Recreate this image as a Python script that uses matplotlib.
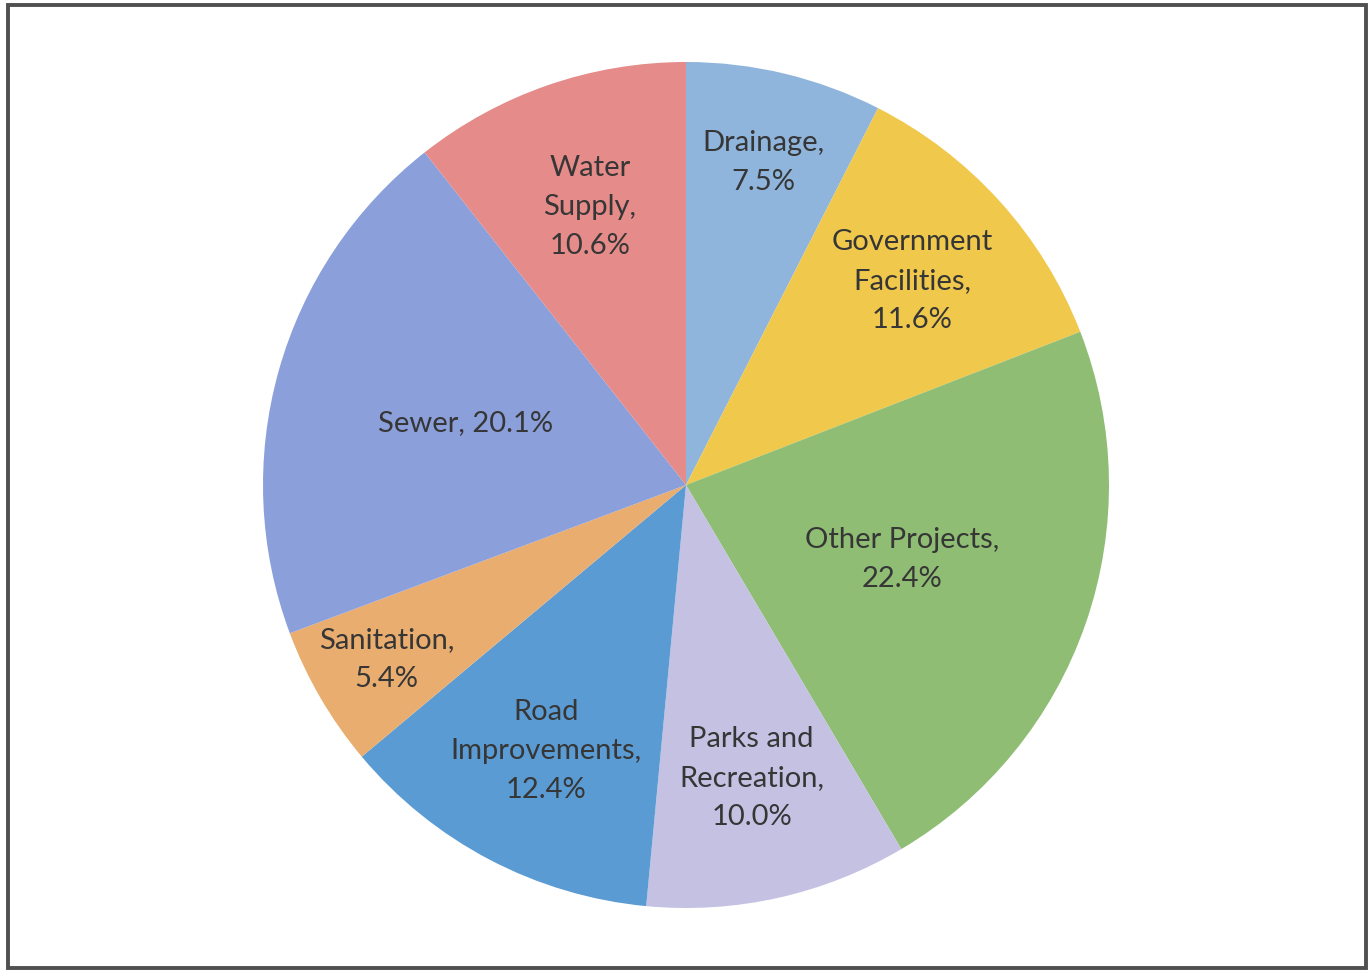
#!/usr/bin/env python3

import numpy as np
import matplotlib.pyplot as plt
from matplotlib.patches import Rectangle

# categories and shares (%), clockwise from 12 o'clock
categories = ["Drainage", "Government Facilities", "Other Projects",
              "Parks and Recreation", "Road Improvements", "Sanitation",
              "Sewer", "Water Supply"]
shares = [7.5, 11.6, 22.4, 10.0, 12.4, 5.4, 20.1, 10.6]
label_names = ["Drainage,", "Government\nFacilities,", "Other Projects,",
               "Parks and\nRecreation,", "Road\nImprovements,", "Sanitation,",
               "Sewer,", "Water\nSupply,"]

colors = ["#8fb5dc", "#f0c84c", "#8fbd74", "#c4c1e3",
          "#5b9bd3", "#e9ad6f", "#8b9fdb", "#e58b89"]
# how far out each label sits (fraction of radius), like Excel's best fit
label_r = [0.785, 0.72, 0.54, 0.71, 0.71, 0.82, 0.54, 0.695]

W, H = 1371, 973
fig = plt.figure(figsize=(W / 100, H / 100), dpi=100)
fig.patch.set_facecolor("white")

# pie centre at (686, 485) px, radius 423 px
cx, cy, R, box = 686, 485, 423, 440
ax = fig.add_axes([(cx - box) / W, (H - cy - box) / H, 2 * box / W, 2 * box / H])

wedges, _ = ax.pie(shares, colors=colors, startangle=90, counterclock=False,
                   radius=R, wedgeprops=dict(linewidth=0))
# pie() resets the limits, so set them afterwards
ax.set_xlim(-box, box)
ax.set_ylim(-box, box)
ax.axis("off")

for w, name, val, rf in zip(wedges, label_names, shares, label_r):
    ang = np.deg2rad((w.theta1 + w.theta2) / 2)
    if name == "Sewer,":
        txt = f"{name} {val:.1f}%"
    else:
        txt = f"{name}\n{val:.1f}%"
    ax.text(rf * R * np.cos(ang), rf * R * np.sin(ang), txt,
            ha="center", va="center", fontsize=21, family="Lato",
            color="#363636", linespacing=1.62)

# scanned frame around the chart
fig.patches.append(Rectangle((8 / W, 1 - 968 / H), 1358 / W, 963 / H,
                             transform=fig.transFigure, fill=False,
                             edgecolor="#505050", linewidth=2.8))

fig.savefig("out.png", dpi=100)
